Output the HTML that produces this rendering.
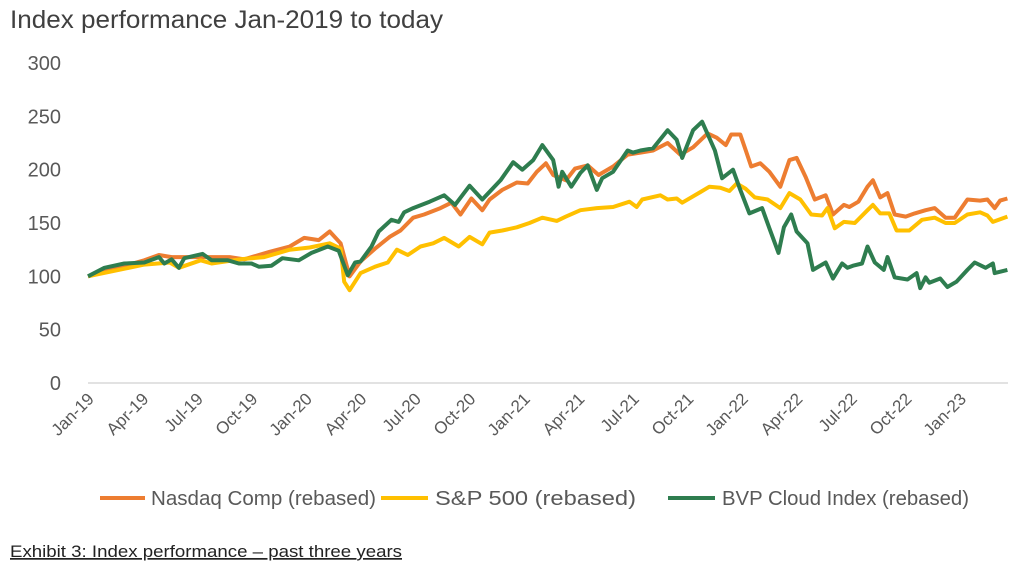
<!DOCTYPE html>
<html><head><meta charset="utf-8"><style>
body{margin:0;background:#fff;width:1017px;height:581px;overflow:hidden;font-family:"Liberation Sans",sans-serif}
</style></head><body>
<svg id="chart" width="1017" height="581" xmlns="http://www.w3.org/2000/svg" font-family="Liberation Sans, sans-serif">
<text x="10" y="28" font-size="25" fill="#404040" textLength="433" lengthAdjust="spacingAndGlyphs">Index performance Jan-2019 to today</text>
<g id="yaxis"></g>
<g id="xaxis"></g>
<line x1="88" y1="383" x2="1008" y2="383" stroke="#d9d9d9" stroke-width="1.5"/>
<g id="series"></g>
<g font-size="20" fill="#595959">
<g><line x1="100" y1="498" x2="145" y2="498" stroke="#ED7D31" stroke-width="4"/><text x="151" y="505" textLength="225" lengthAdjust="spacingAndGlyphs">Nasdaq Comp (rebased)</text></g>
<g><line x1="381" y1="498" x2="428" y2="498" stroke="#FFC000" stroke-width="4"/><text x="435" y="505" textLength="201" lengthAdjust="spacingAndGlyphs">S&amp;P 500 (rebased)</text></g>
<g><line x1="668" y1="498" x2="715" y2="498" stroke="#2E7D4F" stroke-width="4"/><text x="722" y="505" textLength="247" lengthAdjust="spacingAndGlyphs">BVP Cloud Index (rebased)</text></g>
</g>
<text x="10" y="557" font-size="17" fill="#222" text-decoration="underline" textLength="392" lengthAdjust="spacingAndGlyphs">Exhibit 3: Index performance – past three years</text>
</svg>
<script>
const yTicks=[0,50,100,150,200,250,300];
const xTickLabels=["Jan-19","Apr-19","Jul-19","Oct-19","Jan-20","Apr-20","Jul-20","Oct-20","Jan-21","Apr-21","Jul-21","Oct-21","Jan-22","Apr-22","Jul-22","Oct-22","Jan-23"];
// time in months since Jan-2019
const nasdaqT=[0,3.1,3.9,4.6,6.2,7.8,8.6,10.0,11.1,11.9,12.7,13.3,13.9,14.4,15.0,15.8,16.6,17.2,17.9,18.5,19.4,20.0,20.5,21.1,21.7,22.1,22.8,23.6,24.2,24.7,25.2,25.6,26.3,26.8,27.5,28.1,28.9,29.7,30.4,31.1,31.9,32.6,33.3,34.1,34.6,35.1,35.4,35.9,36.2,36.5,37.0,37.5,38.1,38.6,39.0,39.5,40.0,40.6,41.0,41.6,41.9,42.4,42.9,43.2,43.6,44.0,44.4,45.0,45.5,46.1,46.6,47.2,47.7,48.4,49.1,49.5,49.9,50.2,50.6];
const nasdaqV=[100,115,120,118,118,118,116,123,128,136,134,142,131,100,114,126,137,143,155,158,164,169,158,173,162,172,181,188,187,198,206,195,190,201,204,195,203,214,216,218,225,214,221,234,230,223,233,233,218,203,206,198,184,209,211,193,172,176,158,167,165,170,184,190,174,178,158,156,159,162,164,155,155,172,171,172,164,171,173];
const spT=[0,3.1,4.5,5.0,6.2,6.8,8.4,9.7,11.1,12.2,13.3,13.9,14.1,14.4,15.0,15.8,16.5,17.0,17.6,18.3,19.0,19.6,20.4,21.0,21.7,22.1,22.8,23.6,24.3,25.0,25.8,26.3,27.1,28.0,28.9,29.8,30.2,30.5,31.5,31.9,32.4,32.7,33.7,34.2,34.8,35.3,35.7,36.2,36.7,37.4,38.1,38.6,39.2,39.8,40.4,40.7,41.1,41.6,42.2,42.9,43.2,43.6,44.1,44.5,45.2,45.9,46.6,47.2,47.7,48.4,49.1,49.5,49.8,50.6];
const spV=[100,111,113,108,115,112,116,118,125,127,131,126,95,87,103,109,113,125,120,128,131,136,128,137,130,141,143,146,150,155,152,156,162,164,165,170,165,172,176,172,173,169,179,184,183,180,187,182,174,172,164,178,172,158,157,164,145,151,150,162,167,159,159,143,143,153,155,150,150,158,160,157,151,156];
const bvpT=[0,0.9,2.0,3.1,3.9,4.2,4.6,5.0,5.3,6.3,6.8,7.7,8.3,9.0,9.4,10.1,10.7,11.6,12.3,13.2,13.8,14.3,14.7,15.0,15.6,16.0,16.7,17.1,17.4,17.9,18.8,19.6,20.2,21.0,21.7,22.7,23.4,23.9,24.5,25.0,25.6,25.9,26.1,26.6,27.1,27.5,28.0,28.3,28.9,29.7,30.0,30.4,31.1,31.9,32.4,32.7,33.3,33.8,34.5,34.9,35.5,35.9,36.4,37.1,37.5,38.0,38.3,38.7,39.0,39.6,39.9,40.6,41.0,41.5,41.8,42.1,42.6,42.9,43.3,43.8,44.0,44.4,45.1,45.6,45.8,46.1,46.3,46.9,47.3,47.8,48.4,48.8,49.4,49.8,49.9,50.6];
const bvpV=[100,108,112,113,118,112,116,108,117,121,115,115,112,112,109,110,117,115,122,128,124,101,113,114,128,142,153,151,160,164,170,176,167,185,172,190,207,200,209,223,209,184,198,184,197,204,181,192,198,218,216,218,220,237,228,211,237,245,218,192,200,181,159,164,145,122,146,158,142,131,106,113,98,112,108,110,112,128,113,106,118,99,97,103,89,99,94,98,90,95,106,113,108,112,103,106];

const NS="http://www.w3.org/2000/svg";
const X=t=>88+t*18.17;
const Y=v=>383-v*320/300;
const yG=document.getElementById('yaxis');
yTicks.forEach(v=>{
  const t=document.createElementNS(NS,'text');
  
  
  t.setAttribute('x',61);t.setAttribute('y',Y(v)+7);
  t.setAttribute('text-anchor','end');t.setAttribute('font-size','20');t.setAttribute('fill','#595959');
  t.textContent=v;yG.appendChild(t);
});
const xG=document.getElementById('xaxis');
xTickLabels.forEach((s,i)=>{
  const x=X(i*3)+7,y=400;
  const t=document.createElementNS(NS,'text');
  
  
  t.setAttribute('x',x);t.setAttribute('y',y);
  t.setAttribute('text-anchor','end');t.setAttribute('font-size','17');t.setAttribute('fill','#595959');
  t.setAttribute('transform',`rotate(-45 ${x} ${y})`);
  t.textContent=s;xG.appendChild(t);
});
const sG=document.getElementById('series');
function draw(T,V,color,name){
  const p=document.createElementNS(NS,'polyline');
  
  
  p.setAttribute('points',T.map((t,i)=>X(t).toFixed(1)+','+Y(V[i]).toFixed(1)).join(' '));
  p.setAttribute('fill','none');p.setAttribute('stroke',color);p.setAttribute('stroke-width','4');
  p.setAttribute('stroke-linejoin','round');
  sG.appendChild(p);
}
draw(nasdaqT,nasdaqV,'#ED7D31','nasdaq-line');
draw(spT,spV,'#FFC000','sp500-line');
draw(bvpT,bvpV,'#2E7D4F','bvp-cloud-line');
</script>
</body></html>
